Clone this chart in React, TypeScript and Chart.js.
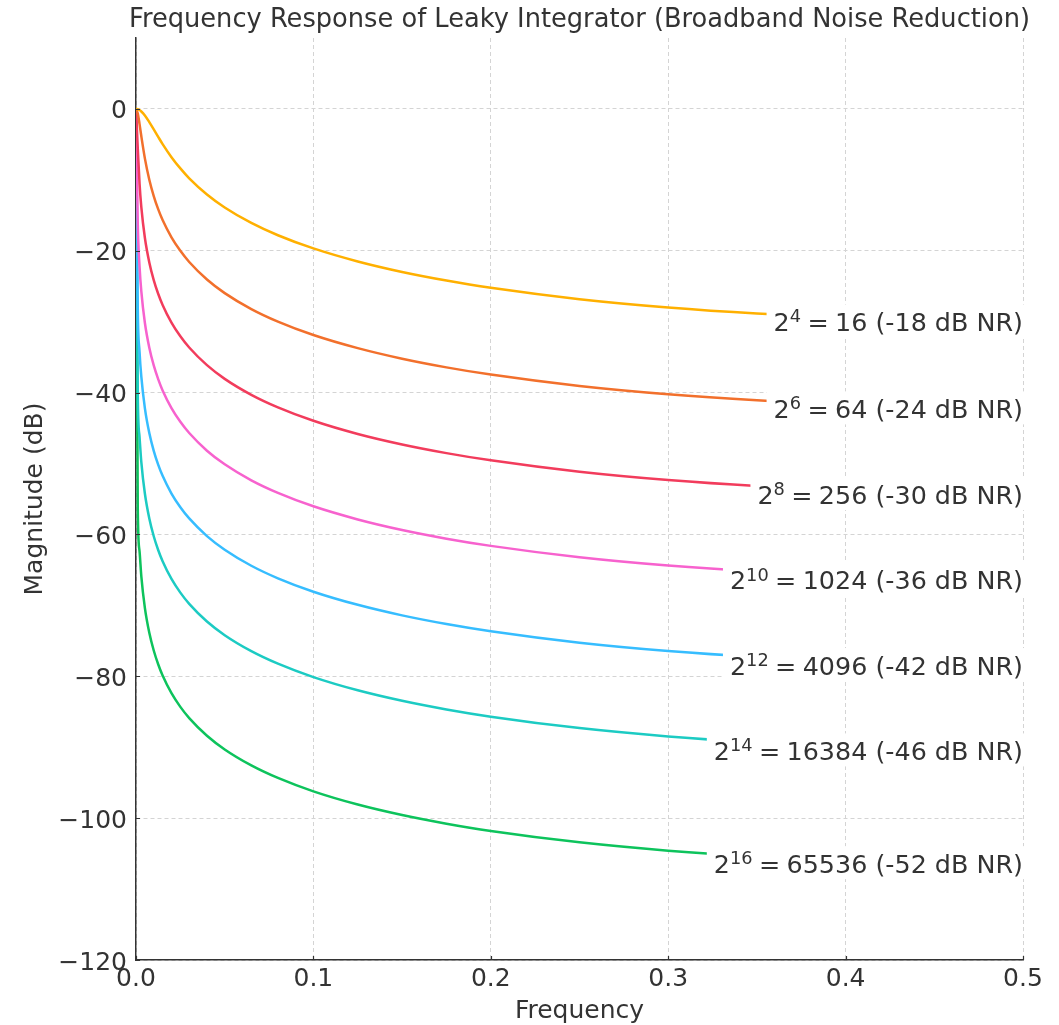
import React, { useEffect, useRef } from "react";
import { Chart, registerables } from "chart.js";

Chart.register(...registerables);

// Normalized frequency samples (cycles/sample)
const freqs = [0, 0.001, 0.002, 0.003, 0.005, 0.0075, 0.01, 0.0125, 0.015, 0.02, 0.025, 0.03, 0.04, 0.05, 0.065, 0.08, 0.1, 0.125, 0.15, 0.175, 0.2, 0.25, 0.3, 0.35, 0.4, 0.45, 0.5];

// Magnitude (dB) for each leak length
const mag16 = [0, -0.04, -0.16, -0.36, -0.92, -1.86, -2.89, -3.94, -4.96, -6.8, -8.39, -9.78, -12.06, -13.89, -16.07, -17.81, -19.67, -21.51, -22.99, -24.2, -25.22, -26.82, -27.99, -28.83, -29.39, -29.72, -29.83];
const mag64 = [0, -0.64, -2.14, -3.86, -6.97, -9.98, -12.28, -14.13, -15.66, -18.1, -20.01, -21.58, -24.05, -25.97, -28.22, -29.99, -31.88, -33.73, -35.22, -36.44, -37.46, -39.07, -40.24, -41.07, -41.64, -41.97, -42.08];
const mag256 = [0, -5.54, -10.53, -13.84, -18.16, -21.64, -24.13, -26.06, -27.64, -30.13, -32.06, -33.64, -36.13, -38.06, -40.31, -42.08, -43.97, -45.83, -47.31, -48.53, -49.55, -51.16, -52.33, -53.17, -53.73, -54.06, -54.17];
const mag1024 = [0, -16.27, -22.21, -25.72, -30.15, -33.67, -36.17, -38.1, -39.69, -42.18, -44.12, -45.7, -48.19, -50.11, -52.37, -54.14, -56.03, -57.88, -59.37, -60.59, -61.61, -63.21, -64.38, -65.22, -65.79, -66.12, -66.22];
const mag4096 = [0, -28.22, -34.23, -37.75, -42.19, -45.71, -48.21, -50.15, -51.73, -54.23, -56.16, -57.74, -60.23, -62.15, -64.41, -66.18, -68.07, -69.92, -71.41, -72.63, -73.65, -75.26, -76.43, -77.27, -77.83, -78.16, -78.27];
const mag16384 = [0, -40.25, -46.27, -49.79, -54.23, -57.75, -60.25, -62.19, -63.77, -66.27, -68.2, -69.78, -72.27, -74.2, -76.45, -78.22, -80.11, -81.97, -83.45, -84.67, -85.69, -87.3, -88.47, -89.31, -89.87, -90.2, -90.31];
const mag65536 = [0, -56.36, -62.38, -65.91, -70.34, -73.86, -76.36, -78.3, -79.88, -82.38, -84.31, -85.89, -88.38, -90.31, -92.56, -94.33, -96.22, -98.08, -99.56, -100.78, -101.81, -103.41, -104.58, -105.42, -105.99, -106.31, -106.2];

// Label parts
const exponents = ["4", "6", "8", "10", "12", "14", "16"];
const nValues = ["16", "64", "256", "1024", "4096", "16384", "65536"];
const nrDb = ["-18", "-24", "-30", "-36", "-42", "-46", "-52"];
const colors = ["#FFB000", "#F2702C", "#F23C5C", "#F762CE", "#36BDFF", "#1CCBC3", "#0DC35C"];

const xTicks = [0, 0.1, 0.2, 0.3, 0.4, 0.5];
const yTicks = [0, -20, -40, -60, -80, -100, -120];

const titleText = "Frequency Response of Leaky Integrator (Broadband Noise Reduction)";
const xTitle = "Frequency";
const yTitle = "Magnitude (dB)";

const FAMILY = "'DejaVu Sans', 'Liberation Sans', sans-serif";
const TEXT = "#333333";
const FS = 25;

export default function App() {
  const ref = useRef<HTMLCanvasElement>(null);

  useEffect(() => {
    const canvas = ref.current;
    if (!canvas) return;
    const series = [mag16, mag64, mag256, mag1024, mag4096, mag16384, mag65536];

    const overlay = {
      id: "overlay",
      afterDatasetsDraw(chart: any) {
        const ctx = chart.ctx as CanvasRenderingContext2D;
        const xs = chart.scales.x;
        const ys = chart.scales.y;
        const area = chart.chartArea;
        ctx.save();
        // inward tick marks
        ctx.strokeStyle = TEXT;
        ctx.lineWidth = 1.2;
        ctx.beginPath();
        for (const v of yTicks) {
          const py = Math.round(ys.getPixelForValue(v)) + 0.5;
          ctx.moveTo(area.left, py);
          ctx.lineTo(area.left + 4, py);
        }
        for (const v of xTicks) {
          const px = Math.round(xs.getPixelForValue(v)) + 0.5;
          ctx.moveTo(px, area.bottom);
          ctx.lineTo(px, area.bottom - 4);
        }
        ctx.stroke();

        // curve labels with white boxes
        const lfs = 25.4;
        const mainFont = `${lfs}px ${FAMILY}`;
        const supFont = `${(lfs * 0.7).toFixed(1)}px ${FAMILY}`;
        const gap = lfs * 0.25;
        series.forEach((s, i) => {
          const last = s.length - 1;
          const px = xs.getPixelForValue(freqs[last]);
          const py = ys.getPixelForValue(s[last]);
          ctx.font = mainFont;
          const w2 = ctx.measureText("2").width;
          const wEq = ctx.measureText("=").width;
          const wNum = ctx.measureText(nValues[i]).width;
          const rest = ` (${nrDb[i]} dB NR)`;
          const wRest = ctx.measureText(rest).width;
          ctx.font = supFont;
          const wSup = ctx.measureText(exponents[i]).width;
          const total = w2 + wSup + gap + wEq + gap + wNum + wRest;
          const left = px - total;
          const baseline = py + 10.5;
          ctx.fillStyle = "#ffffff";
          ctx.fillRect(left - 7, py - 16, total + 12, 33);
          ctx.fillStyle = TEXT;
          ctx.textAlign = "left";
          ctx.textBaseline = "alphabetic";
          let cx = left;
          ctx.font = mainFont;
          ctx.fillText("2", cx, baseline);
          cx += w2;
          ctx.font = supFont;
          ctx.fillText(exponents[i], cx, baseline - 8.5);
          cx += wSup + gap;
          ctx.font = mainFont;
          ctx.fillText("=", cx, baseline);
          cx += wEq + gap;
          ctx.fillText(nValues[i], cx, baseline);
          cx += wNum;
          ctx.fillText(rest, cx, baseline);
        });
        ctx.restore();
      },
      afterDraw(chart: any) {
        const ctx = chart.ctx as CanvasRenderingContext2D;
        const area = chart.chartArea;
        const cxm = (area.left + area.right) / 2;
        const cym = (area.top + area.bottom) / 2;
        ctx.save();
        ctx.fillStyle = TEXT;
        ctx.textAlign = "center";
        ctx.textBaseline = "alphabetic";
        ctx.font = `25.7px ${FAMILY}`;
        ctx.fillText(titleText, cxm, 27);
        ctx.font = `${FS}px ${FAMILY}`;
        ctx.fillText(xTitle, cxm, 1018);
        ctx.translate(42, cym);
        ctx.rotate(-Math.PI / 2);
        ctx.fillText(yTitle, 0, 0);
        ctx.restore();
      },
    };

    const chart = new Chart(canvas, {
      type: "line",
      data: {
        datasets: series.map((s, i) => ({
          label: nValues[i],
          data: freqs.map((f, j) => ({ x: f, y: s[j] })),
          borderColor: colors[i],
          backgroundColor: colors[i],
          borderWidth: 2.5,
          pointRadius: 0,
          fill: false,
          cubicInterpolationMode: "monotone" as const,
        })),
      },
      options: {
        animation: false,
        responsive: false,
        devicePixelRatio: 1,
        layout: { padding: { top: 38, right: 36, left: 0, bottom: 0 } },
        plugins: {
          legend: { display: false },
          title: { display: false },
          tooltip: { enabled: false },
        },
        scales: {
          x: {
            type: "linear",
            min: 0,
            max: 0.5,
            afterBuildTicks: (s: any) => {
              s.ticks = xTicks.map((v) => ({ value: v }));
            },
            afterFit: (s: any) => {
              s.height = 65;
            },
            ticks: {
              font: { size: FS, family: FAMILY },
              color: TEXT,
              padding: 4,
              maxRotation: 0,
              autoSkip: false,
              callback: (v: any) => Number(v).toFixed(1),
            },
            grid: { color: "#d4d4d4", lineWidth: 1, drawTicks: false },
            border: { display: true, color: TEXT, width: 1.5, dash: [4, 3] },
          },
          y: {
            type: "linear",
            min: -120,
            max: 10,
            afterBuildTicks: (s: any) => {
              s.ticks = yTicks.map((v) => ({ value: v }));
            },
            afterFit: (s: any) => {
              s.width = 136;
            },
            ticks: {
              font: { size: FS, family: FAMILY },
              color: TEXT,
              padding: 9,
              labelOffset: 3,
              autoSkip: false,
              callback: (v: any) => (Number(v) === 0 ? "0" : "\u2212" + Math.abs(Number(v))),
            },
            grid: { color: "#d4d4d4", lineWidth: 1, drawTicks: false },
            border: { display: true, color: TEXT, width: 1.5, dash: [4, 3] },
          },
        },
      },
      plugins: [overlay],
    });

    return () => chart.destroy();
  }, []);

  return (
    <div style={{ position: "absolute", left: 0, top: 0, width: 1059, height: 1025, background: "#ffffff" }}>
      <canvas ref={ref} width={1059} height={1025} style={{ display: "block", width: 1059, height: 1025 }} />
    </div>
  );
}
